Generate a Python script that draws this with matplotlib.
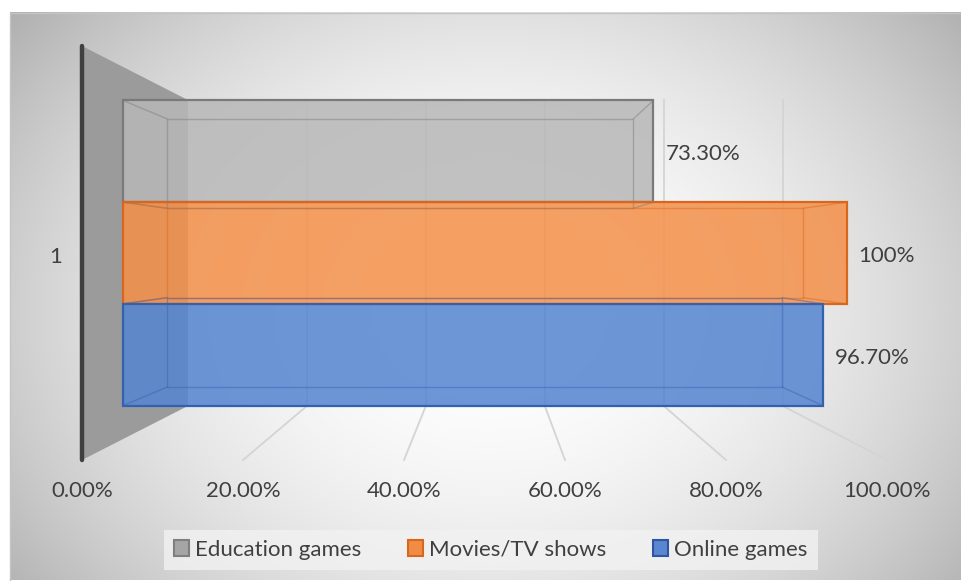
import numpy as np
import matplotlib
matplotlib.use("Agg")
import matplotlib.pyplot as plt
from matplotlib.patches import Polygon, Rectangle, Patch

# ---- data ----
series = ["Education games", "Movies/TV shows", "Online games"]
values = [0.733, 1.00, 0.967]
value_labels = ["73.30%", "100%", "96.70%"]
category_labels = ["1"]
tick_values = [0.0, 0.2, 0.4, 0.6, 0.8, 1.0]
tick_labels = ["0.00%", "20.00%", "40.00%", "60.00%", "80.00%", "100.00%"]

# ---- style ----
fill_colors = ["#b8b8b8", "#f4904a", "#5585d0"]
edge_colors = ["#7a7a7a", "#d8661c", "#3560b0"]
legend_fill = ["#a5a5a5", "#f08c44", "#5a85d0"]
legend_edge = ["#7f7f7f", "#d8661c", "#2f55a0"]
text_color = "#404040"
grid_color = "#d4d4d4"
FS = 16

plt.rcParams["font.family"] = ["Lato", "DejaVu Sans"]

W, H = 962, 581
DPI = 100
fig = plt.figure(figsize=(W / DPI, H / DPI), dpi=DPI)

# ---- chart area with radial gradient ----
bg = fig.add_axes([0, 0, 1, 1])
bg.set_xlim(0, W)
bg.set_ylim(H, 0)
bg.axis("off")
x0, y0, x1, y1 = 10, 12, W, 580
yy, xx = np.mgrid[y0:y1, x0:x1]
r = np.sqrt(((xx - 490) / 600.0) ** 2 + ((yy - 310) / 470.0) ** 2)
shade = 1.0 - 0.30 * np.clip(r, 0, 1.2) ** 2.0
img = np.dstack([shade, shade, shade])
bg.imshow(img, extent=(x0, x1, y1, y0), aspect="auto", interpolation="bilinear")
bg.add_patch(Rectangle((x0 + 0.5, y0 + 0.5), W, H, fill=False,
                       ec="#c4c4c4", lw=1.0))

# ---- plot axes: front plane of the 3-D box ----
ax = fig.add_axes([82 / W, (H - 460) / H, 805 / W, 414 / H])
ax.set_xlim(0, 1)
ax.set_ylim(0.5, 1.5)
ax.axis("off")

# perspective: each depth plane is the front plane scaled toward a vanishing point
VX, VY = 0.504, 1.0
S_BAR_FRONT, S_BAR_BACK, S_WALL = 0.899, 0.79, 0.739


def proj(v, c, s):
    return (VX + (v - VX) * s, VY + (c - VY) * s)


# side wall at value zero
wall = [proj(0, 0.5, 1), proj(0, 1.5, 1), proj(0, 1.5, S_WALL), proj(0, 0.5, S_WALL)]
ax.add_patch(Polygon(wall, closed=True, fc="#9b9b9b", ec="none", zorder=1,
                     clip_on=False))

# floor and back-wall gridlines
for v in tick_values[1:]:
    a = proj(v, 0.5, 1)
    b = proj(v, 0.5, S_WALL)
    c = proj(v, 1.5, S_WALL)
    ax.plot([a[0], b[0]], [a[1], b[1]], color=grid_color, lw=1.3, zorder=1,
            clip_on=False)
    ax.plot([b[0], c[0]], [b[1], c[1]], color=grid_color, lw=1.3, zorder=1,
            clip_on=False)

# value axis line
ax.plot([0, 0], [0.5, 1.5], color="#404040", lw=3.2, solid_capstyle="round",
        zorder=6, clip_on=False)

# bars
group_width = 0.82
bw = group_width / len(series)
centers = [1 + (1 - i) * bw for i in range(len(series))]

for i, (v, cen) in enumerate(zip(values, centers)):
    c0, c1 = cen - bw / 2, cen + bw / 2
    front = [proj(0, c0, S_BAR_FRONT), proj(v, c0, S_BAR_FRONT),
             proj(v, c1, S_BAR_FRONT), proj(0, c1, S_BAR_FRONT)]
    back = [proj(0, c0, S_BAR_BACK), proj(v, c0, S_BAR_BACK),
            proj(v, c1, S_BAR_BACK), proj(0, c1, S_BAR_BACK)]
    ax.add_patch(Polygon(front, closed=True, fc=fill_colors[i], ec="none",
                         alpha=0.86, zorder=3, clip_on=False))
    # hidden edges seen through the translucent box
    ax.add_patch(Polygon(back, closed=True, fill=False, ec=edge_colors[i],
                         lw=1.0, alpha=0.45, zorder=4, clip_on=False))
    for f, b in zip(front, back):
        ax.plot([f[0], b[0]], [f[1], b[1]], color=edge_colors[i], lw=1.0,
                alpha=0.45, zorder=4, clip_on=False)
    ax.add_patch(Polygon(front, closed=True, fill=False, ec=edge_colors[i],
                         lw=1.6, zorder=5, clip_on=False))
    mid = proj(v, cen, S_BAR_FRONT)
    ax.annotate(value_labels[i], xy=mid, xytext=(12, -3),
                textcoords="offset pixels", ha="left", va="center",
                fontsize=FS, color=text_color, zorder=7, annotation_clip=False)

# tick labels along the front floor edge
for v, t in zip(tick_values, tick_labels):
    ax.annotate(t, xy=(v, 0.5), xytext=(0, -31), textcoords="offset pixels",
                ha="center", va="center", fontsize=FS, color=text_color,
                annotation_clip=False)

# category label
ax.annotate(category_labels[0], xy=(0, 1.0), xytext=(-26, -4),
            textcoords="offset pixels", ha="center", va="center", fontsize=FS,
            color=text_color, annotation_clip=False)

# legend
handles = [Patch(facecolor=legend_fill[i], edgecolor=legend_edge[i], lw=1.5,
                 label=series[i]) for i in range(len(series))]
leg = fig.legend(handles=handles, loc="center", ncol=3,
                 bbox_to_anchor=(491 / W, 1 - 550 / H), frameon=True,
                 fancybox=False, facecolor="#f2f2f2", edgecolor="none",
                 framealpha=0.8, fontsize=FS, handlelength=0.65,
                 handleheight=0.7, handletextpad=0.3, columnspacing=2.1,
                 borderpad=0.45, borderaxespad=0, labelcolor=text_color)

fig.savefig("out.png", dpi=DPI)
